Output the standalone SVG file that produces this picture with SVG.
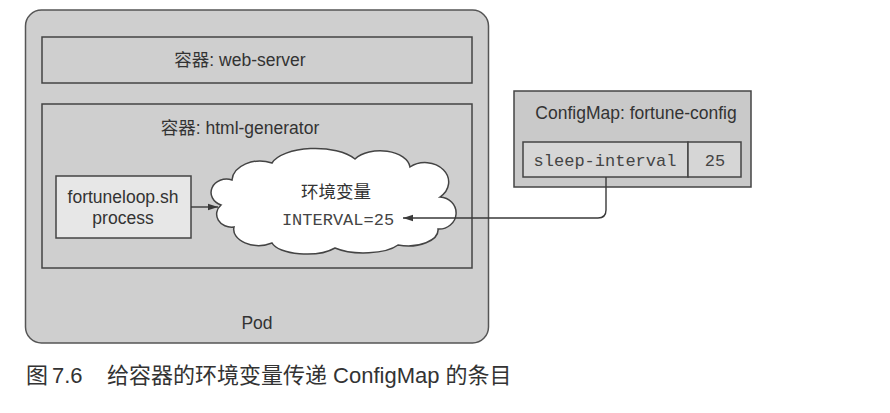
<svg xmlns="http://www.w3.org/2000/svg" width="890" height="413" viewBox="0 0 890 413">
  <defs>
    <marker id="arrow" viewBox="0 0 10 8" refX="10" refY="4" markerWidth="10" markerHeight="8" markerUnits="userSpaceOnUse" orient="auto">
      <path d="M0,0.8 L10,4 L0,7.2 Z" fill="#3a3a3a"/>
    </marker>
    <style>
      .box { fill: none; stroke: #444; stroke-width: 1.5; }
      .lbl { font-family: "Liberation Sans", Arial, "Noto Sans CJK SC", sans-serif; font-size: 17.5px; fill: #333; text-anchor: middle; }
      .mono { font-family: "Liberation Mono", "Courier New", monospace; font-size: 17px; fill: #444; text-anchor: middle; }
      .cap { font-family: "Liberation Sans", Arial, "Noto Sans CJK SC", sans-serif; font-size: 22px; fill: #333; }
      .conn { fill: none; stroke: #3a3a3a; stroke-width: 1.4; }
    </style>
  </defs>
  <rect width="890" height="413" fill="#ffffff"/>

  <g id="pod">
    <rect x="25.5" y="10" width="463" height="333" rx="16" fill="#cfcfcf" stroke="#555" stroke-width="1.5"/>
    <text class="lbl" x="257" y="329">Pod</text>
  </g>

  <g id="web-server">
    <rect class="box" x="42" y="37" width="430" height="46"/>
    <text class="lbl" x="240" y="66">容器: web-server</text>
  </g>

  <g id="html-generator">
    <rect class="box" x="42" y="104" width="430" height="164"/>
    <text class="lbl" x="240" y="134">容器: html-generator</text>
  </g>

  <g id="fortuneloop">
    <rect x="56" y="176" width="135" height="62" fill="#e7e7e7" stroke="#444" stroke-width="1.5"/>
    <text class="lbl" x="123" y="203">fortuneloop.sh</text>
    <text class="lbl" x="123" y="224">process</text>
  </g>

  <g id="env-cloud">
    <path d="M 232,180 A 28,20 0 0 1 272,163 A 45,20 0 0 1 355,159 A 30,18 0 0 1 410,167 A 22,18 0 0 1 440,197 A 16,15 0 0 1 438,229 A 30,16 0 0 1 398,245 A 38,14 0 0 1 335,248 A 35,14 0 0 1 272,243 A 25,16 0 0 1 234,227 A 15,13 0 0 1 221,205 A 15,13 0 0 1 232,180 Z" fill="#ffffff" stroke="#444" stroke-width="1.5"/>
    <text class="lbl" x="336" y="198" style="font-size:17.5px">环境变量</text>
    <text class="mono" x="338" y="225">INTERVAL=25</text>
  </g>

  <g id="configmap">
    <rect x="514" y="91" width="237" height="96" fill="#c9c9c9" stroke="#444" stroke-width="1.5"/>
    <text class="lbl" x="636" y="119">ConfigMap: fortune-config</text>
    <rect x="523" y="142" width="165" height="35" fill="#d6d6d6" stroke="#444" stroke-width="1.5"/>
    <rect x="688" y="142" width="53" height="35" fill="#d6d6d6" stroke="#444" stroke-width="1.5"/>
    <text class="mono" x="605" y="166">sleep-interval</text>
    <text class="mono" x="715" y="166">25</text>
  </g>

  <g id="connectors">
    <path class="conn" d="M191,207 H218" marker-end="url(#arrow)"/>
    <path class="conn" d="M606,177 V210 Q606,218 598,218 H403" marker-end="url(#arrow)"/>
  </g>

  <g id="caption">
    <text class="cap" x="26" y="383">图</text>
    <text class="cap" x="52" y="383">7.6</text>
    <text class="cap" x="107" y="383">给容器的环境变量传递 ConfigMap 的条目</text>
  </g>
</svg>
